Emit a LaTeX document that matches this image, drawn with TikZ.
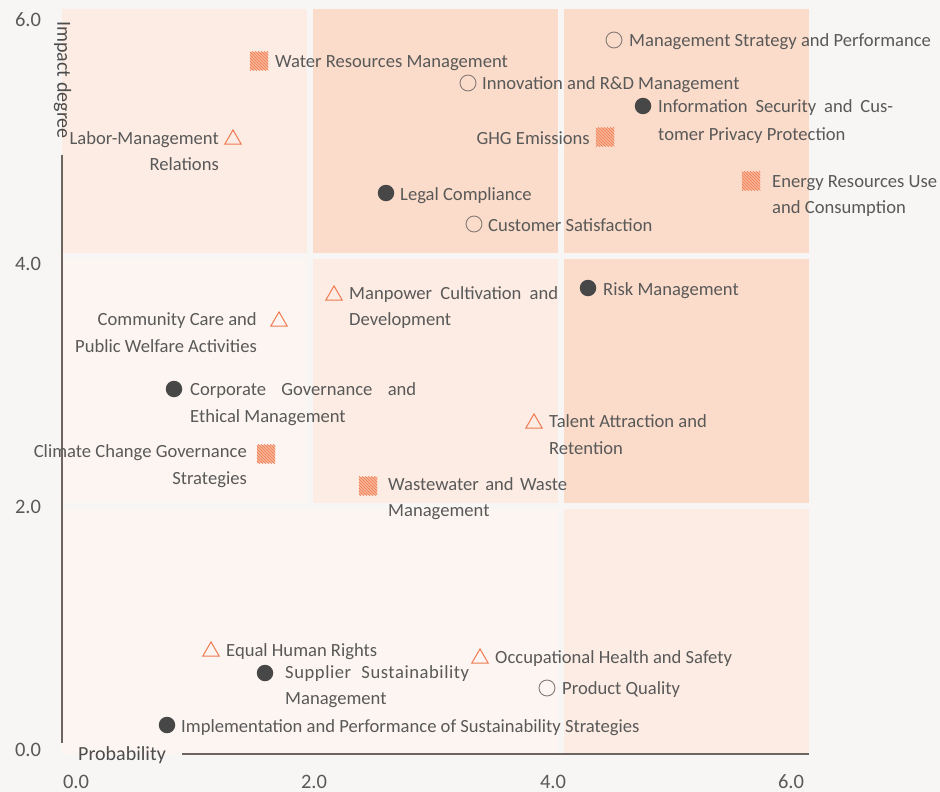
\documentclass[tikz,border=0pt]{standalone}
\usepackage{fontspec}
\setmainfont{Carlito}
\usetikzlibrary{shapes.geometric,patterns}
\definecolor{bgc}{HTML}{F7F6F4}
\definecolor{cA}{HTML}{FDF5F1}
\definecolor{cB}{HTML}{FCECE3}
\definecolor{cC}{HTML}{FBDCCA}
\definecolor{txtc}{HTML}{595959}
\definecolor{axc}{HTML}{6E6560}
\definecolor{orc}{HTML}{EF7A52}
\definecolor{sqf}{HTML}{F8B596}
\definecolor{dotc}{HTML}{474747}
\definecolor{ringc}{HTML}{857A75}
\newcommand\lblfont{\fontsize{18.6}{22}\selectfont}
\newcommand\tickfont{\fontsize{20.5}{24}\selectfont}
\newcommand\axtfont{\fontsize{20}{24}\selectfont}
\begin{document}
\begin{tikzpicture}[x=1pt,y=-1pt,
  dotm/.style={circle, fill=dotc, minimum size=16.5pt, inner sep=0pt},
  ringm/.style={circle, draw=ringc, line width=0.9pt, minimum size=16pt, inner sep=0pt},
  trim/.style={regular polygon, regular polygon sides=3, draw=orc, line width=1pt, minimum size=19pt, inner sep=0pt},
  sqm/.style={rectangle, minimum size=18.5pt, inner sep=0pt, preaction={fill=sqf}, pattern=north west lines, pattern color=orc},
  lab/.style={font=\lblfont, text=txtc, inner sep=0pt, yshift=-1pt},
  tick/.style={font=\tickfont, text=txtc, inner sep=0pt},
  axt/.style={font=\axtfont, text=txtc!85!black, inner sep=0pt},
  axl/.style={draw=axc, line width=1.4pt}]
\fill[bgc] (0,0) rectangle (940,792);
\useasboundingbox (0,0) rectangle (940,792);
% cells
\fill[cB] (62,9) rectangle (307,253);
\fill[cC] (313,9) rectangle (558,253);
\fill[cC] (564,9) rectangle (809,253);
\fill[cA] (62,259) rectangle (307,503);
\fill[cB] (313,259) rectangle (558,503);
\fill[cC] (564,259) rectangle (809,503);
\fill[cA] (62,509) rectangle (307,754);
\fill[cA] (313,509) rectangle (558,754);
\fill[cB] (564,509) rectangle (809,754);
\fill[cA] (307,509) rectangle (313,754);
% axes
\coordinate (ya) at (62,155);
\coordinate (yb) at (62,743);
\coordinate (xa) at (182,754);
\coordinate (xb) at (809,754);
\draw[axl] (ya) -- (yb);
\draw[axl] (xa) -- (xb);
\node[axt, rotate=-90] (ytitle) at (62.5,80) {Impact degree};
\node[axt, anchor=base west] (xtitle) at (78,760) {Probability};
% ticks
\node[tick, anchor=base] (y6) at (28,27) {6.0};
\node[tick, anchor=base] (y4) at (28,270) {4.0};
\node[tick, anchor=base] (y2) at (28,513) {2.0};
\node[tick, anchor=base] (y0) at (28,756) {0.0};
\node[tick, anchor=base] (x0) at (76,788) {0.0};
\node[tick, anchor=base] (x2) at (314,788) {2.0};
\node[tick, anchor=base] (x4) at (553,788) {4.0};
\node[tick, anchor=base] (x6) at (791,788) {6.0};
% markers
\node[sqm] (m1) at (259,61) {};
\node[trim] (m2) at (233,139.4) {};
\node[ringm] (m3) at (614,40) {};
\node[ringm] (m4) at (468,83) {};
\node[dotm] (m5) at (643,106) {};
\node[sqm] (m6) at (605,137) {};
\node[sqm] (m7) at (751,181) {};
\node[dotm] (m8) at (386,193) {};
\node[ringm] (m9) at (474,224) {};
\node[dotm] (m10) at (588,288) {};
\node[trim] (m11) at (334,295.4) {};
\node[trim] (m12) at (279,321.4) {};
\node[dotm] (m13) at (174,389) {};
\node[trim] (m14) at (534,423.4) {};
\node[sqm] (m15) at (266,454) {};
\node[sqm] (m16) at (368,486) {};
\node[trim] (m17) at (211,651.4) {};
\node[dotm] (m18) at (265,673) {};
\node[trim] (m19) at (480,658.4) {};
\node[ringm] (m20) at (547,688) {};
\node[dotm] (m21) at (167,725) {};
% labels
\node[lab, anchor=base west] (l1) at (275,67) {Water Resources Management};
\node[lab, anchor=base east] (l2) at (219,143) {Labor-Management};
\node[lab, anchor=base east] (l2b) at (219,169) {Relations};
\node[lab, anchor=base west] (l3) at (629,46) {Management Strategy and Performance};
\node[lab, anchor=base west] (l4) at (482,88) {Innovation and R\&D Management};
\node[lab, anchor=base west] (l5) at (658,112) {\makebox[235pt][s]{Information Security and Cus-}};
\node[lab, anchor=base west] (l5b) at (658,139) {tomer Privacy Protection};
\node[lab, anchor=base east] (l6) at (590,143) {GHG Emissions};
\node[lab, anchor=base west] (l7) at (772,186) {Energy Resources Use};
\node[lab, anchor=base west] (l7b) at (772,212) {and Consumption};
\node[lab, anchor=base west] (l8) at (400,199) {Legal Compliance};
\node[lab, anchor=base west] (l9) at (488,230) {Customer Satisfaction};
\node[lab, anchor=base west] (l10) at (603,294) {Risk Management};
\node[lab, anchor=base west] (l11) at (349,298) {\makebox[209pt][s]{Manpower Cultivation and}};
\node[lab, anchor=base west] (l11b) at (349,324) {Development};
\node[lab, anchor=base east] (l12) at (257,324) {Community Care and};
\node[lab, anchor=base east] (l12b) at (257,351) {Public Welfare Activities};
\node[lab, anchor=base west] (l13) at (190,394) {\makebox[226pt][s]{Corporate Governance and}};
\node[lab, anchor=base west] (l13b) at (190,421) {Ethical Management};
\node[lab, anchor=base west] (l14) at (549,426) {Talent Attraction and};
\node[lab, anchor=base west] (l14b) at (549,453) {Retention};
\node[lab, anchor=base east] (l15) at (247,456) {Climate Change Governance};
\node[lab, anchor=base east] (l15b) at (247,483) {Strategies};
\node[lab, anchor=base west] (l16) at (388,489) {\makebox[179pt][s]{Wastewater and Waste}};
\node[lab, anchor=base west] (l16b) at (388,515) {Management};
\node[lab, anchor=base west] (l17) at (226,655) {Equal Human Rights};
\node[lab, anchor=base west] (l18) at (285,677) {\addfontfeature{LetterSpace=3}\makebox[184pt][s]{Supplier Sustainability}};
\node[lab, anchor=base west] (l18b) at (285,703) {Management};
\node[lab, anchor=base west] (l19) at (495,662) {Occupational Health and Safety};
\node[lab, anchor=base west] (l20) at (562,693) {Product Quality};
\node[lab, anchor=base west] (l21) at (181,731) {Implementation and Performance of Sustainability Strategies};
\end{tikzpicture}
\end{document}
